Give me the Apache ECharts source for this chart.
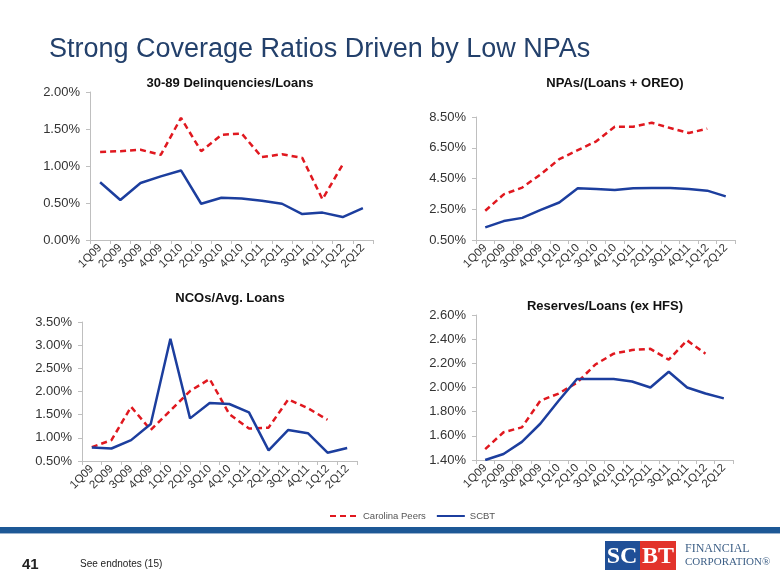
<!DOCTYPE html>
<html><head><meta charset="utf-8">
<script src="https://cdn.jsdelivr.net/npm/echarts@6/dist/echarts.min.js"></script>
<style>html,body{margin:0;padding:0;background:#fff}#c{width:780px;height:585px}</style>
</head><body><div id="c"></div>
<script>
const quarters = ['1Q09','2Q09','3Q09','4Q09','1Q10','2Q10','3Q10','4Q10','1Q11','2Q11','3Q11','4Q11','1Q12','2Q12'];

const delinqPeers = [1.19,1.20,1.22,1.15,1.65,1.20,1.42,1.44,1.12,1.16,1.11,0.55,1.02,null];
const delinqSCBT  = [0.78,0.54,0.77,0.86,0.94,0.49,0.57,0.56,0.53,0.49,0.35,0.37,0.31,0.43];

const npaPeers = [2.40,3.47,3.91,4.77,5.76,6.34,6.92,7.87,7.87,8.13,7.78,7.46,7.74,null];
const npaSCBT  = [1.32,1.73,1.94,2.46,2.94,3.86,3.82,3.75,3.86,3.88,3.88,3.82,3.71,3.34];

const ncoPeers = [0.80,0.95,1.67,1.17,1.59,2.01,2.27,1.51,1.20,1.22,1.83,1.64,1.39,null];
const ncoSCBT  = [0.79,0.77,0.95,1.30,3.14,1.42,1.75,1.73,1.55,0.73,1.17,1.10,0.68,0.78];

const resPeers = [1.49,1.63,1.67,1.89,1.95,2.04,2.19,2.28,2.31,2.32,2.23,2.39,2.28,null];
const resSCBT  = [1.40,1.45,1.55,1.70,1.89,2.07,2.07,2.07,2.05,2.00,2.13,2.00,1.95,1.91];

const chartTitles = ['30-89 Delinquencies/Loans','NPAs/(Loans + OREO)','NCOs/Avg. Loans','Reserves/Loans (ex HFS)'];
const seriesNames = ['Carolina Peers','SCBT'];

const grids = [
  {left:90, top:92, width:283, height:148},
  {left:476, top:117, width:259, height:123},
  {left:82, top:322, width:275, height:139},
  {left:476, top:315, width:257, height:145}
];
const yRanges = [
  {min:0, max:2, interval:0.5},
  {min:0.5, max:8.5, interval:2},
  {min:0.5, max:3.5, interval:0.5},
  {min:1.4, max:2.6, interval:0.2}
];
const titlePos = [[225,72],[610,72],[225,287],[600,295]];
const peersData = [delinqPeers, npaPeers, ncoPeers, resPeers];
const scbtData = [delinqSCBT, npaSCBT, ncoSCBT, resSCBT];

const axisColor = '#bfbfbf';
const red = '#e0181f', blue = '#1c3e9e';
const FF = 'Arial, "Liberation Sans", sans-serif';

const option = {
  animation:false,
  backgroundColor:'#fff',
  textStyle:{fontFamily:FF},
  title: [{text:'Strong Coverage Ratios Driven by Low NPAs', left:44, top:31,
    textStyle:{fontSize:27, fontWeight:'normal', color:'#23406b', fontFamily:FF}}]
    .concat(chartTitles.map((t,i)=>({text:t, left:titlePos[i][0], top:titlePos[i][1], textAlign:'center',
      textStyle:{fontSize:13, fontWeight:'bold', color:'#111', fontFamily:FF}}))),
  legend:{
    data:seriesNames,
    left:324, top:506, itemWidth:28, itemHeight:10, itemGap:10,
    itemStyle:{opacity:0},
    textStyle:{fontSize:9.5, color:'#555', fontFamily:FF}
  },
  grid: grids,
  xAxis: grids.map((g,i)=>({
    type:'category', gridIndex:i, data:quarters, boundaryGap:true,
    axisLine:{lineStyle:{color:axisColor}},
    axisTick:{show:true, length:4, lineStyle:{color:axisColor}},
    axisLabel:{rotate:45, fontSize:11.5, color:'#333', interval:0, margin:6}
  })),
  yAxis: grids.map((g,i)=>({
    type:'value', gridIndex:i, min:yRanges[i].min, max:yRanges[i].max, interval:yRanges[i].interval,
    splitLine:{show:false},
    axisLine:{show:true, lineStyle:{color:axisColor}},
    axisTick:{show:true, length:4, lineStyle:{color:axisColor}},
    axisLabel:{fontSize:13, color:'#333', formatter:v=>v.toFixed(2)+'%', margin:10}
  })),
  series: [].concat(...grids.map((g,i)=>[
    {name:seriesNames[0], type:'line', xAxisIndex:i, yAxisIndex:i, data:peersData[i], symbol:'none',
     lineStyle:{color:red, width:2.5, type:[6,4]}, itemStyle:{color:red}},
    {name:seriesNames[1], type:'line', xAxisIndex:i, yAxisIndex:i, data:scbtData[i], symbol:'none',
     lineStyle:{color:blue, width:2.5}, itemStyle:{color:blue}}
  ])),
  graphic:[
    {type:'rect', shape:{x:0,y:527,width:780,height:6}, style:{fill:'#1d5896'}},
    {type:'rect', shape:{x:0,y:533,width:780,height:1}, style:{fill:'#9bb3cf'}},
    {type:'text', left:22, top:557, style:{text:'41', font:'bold 15px Arial, "Liberation Sans", sans-serif', fill:'#222'}},
    {type:'text', left:80, top:559, style:{text:'See endnotes (15)', font:'10px Arial, "Liberation Sans", sans-serif', fill:'#222'}},
    {type:'rect', shape:{x:605,y:541,width:35,height:29}, style:{fill:'#1f4f97'}},
    {type:'rect', shape:{x:640,y:541,width:36,height:29}, style:{fill:'#e2332b'}},
    {type:'text', x:622, y:557, style:{text:'SC', font:'bold 24px "Liberation Serif", serif', fill:'#fff', align:'center', verticalAlign:'middle'}},
    {type:'text', x:658, y:557, style:{text:'BT', font:'bold 24px "Liberation Serif", serif', fill:'#fff', align:'center', verticalAlign:'middle'}},
    {type:'text', x:685, y:549, style:{text:'FINANCIAL', font:'12px "Liberation Serif", serif', fill:'#3d5f86', verticalAlign:'middle'}},
    {type:'text', x:685, y:562, style:{text:'CORPORATION®', font:'11px "Liberation Serif", serif', fill:'#3d5f86', verticalAlign:'middle'}}
  ]
};
const chart = echarts.init(document.getElementById('c'), null, {renderer:'canvas'});
chart.setOption(option);
</script></body></html>
